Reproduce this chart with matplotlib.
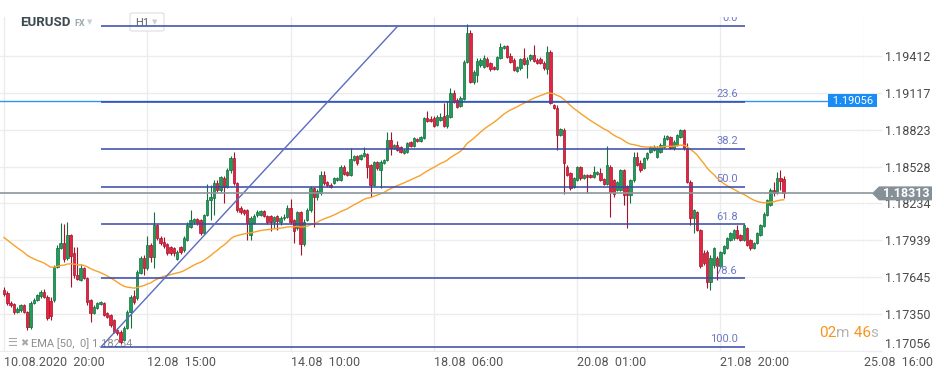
import numpy as np
import matplotlib
matplotlib.use('Agg')
import matplotlib.pyplot as plt
import matplotlib.transforms as mtransforms
from matplotlib.patches import Polygon, FancyBboxPatch

plt.rcParams['font.family'] = ['Roboto', 'DejaVu Sans']

# EURUSD H1 candles, first bar = 10.08.2020 20:00
opens = [
    1.17540, 1.17516, 1.17436, 1.17428, 1.17364, 1.17380, 1.17420, 1.17364, 1.17244, 1.17436,
    1.17460, 1.17492, 1.17524, 1.17484, 1.17452, 1.17460, 1.17724, 1.17876, 1.17916, 1.17796,
    1.17980, 1.17836, 1.17660, 1.17620, 1.17716, 1.17636, 1.17460, 1.17356, 1.17396, 1.17428,
    1.17436, 1.17356, 1.17340, 1.17300, 1.17220, 1.17204, 1.17140, 1.17236, 1.17364, 1.17492,
    1.17476, 1.17676, 1.17796, 1.17716, 1.17900, 1.17804, 1.18060, 1.17956, 1.17924, 1.17908,
    1.17884, 1.17876, 1.17788, 1.17884, 1.17860, 1.17940, 1.18044, 1.18084, 1.18108, 1.18100,
    1.17996, 1.18140, 1.18260, 1.18276, 1.18396, 1.18340, 1.18436, 1.18364, 1.18500, 1.18596,
    1.18396, 1.18196, 1.18180, 1.18180, 1.17980, 1.18076, 1.18140, 1.18140, 1.18172, 1.18132,
    1.18132, 1.18084, 1.18132, 1.18084, 1.18116, 1.18124, 1.18196, 1.18100, 1.18036, 1.18164,
    1.17908, 1.18100, 1.18180, 1.18356, 1.18284, 1.18316, 1.18460, 1.18404, 1.18380, 1.18396,
    1.18420, 1.18420, 1.18524, 1.18484, 1.18460, 1.18580, 1.18612, 1.18588, 1.18612, 1.18628,
    1.18540, 1.18380, 1.18564, 1.18500, 1.18556, 1.18580, 1.18740, 1.18676, 1.18700, 1.18684,
    1.18636, 1.18644, 1.18724, 1.18692, 1.18748, 1.18732, 1.18756, 1.18916, 1.18908, 1.18916,
    1.18860, 1.18900, 1.18932, 1.18852, 1.18924, 1.19116, 1.19060, 1.19012, 1.19068, 1.19364,
    1.19596, 1.19204, 1.19260, 1.19340, 1.19324, 1.19388, 1.19356, 1.19324, 1.19308, 1.19396,
    1.19476, 1.19492, 1.19412, 1.19380, 1.19292, 1.19316, 1.19396, 1.19348, 1.19388, 1.19420,
    1.19380, 1.19388, 1.19356, 1.19308, 1.19444, 1.19020, 1.18996, 1.18780, 1.18820, 1.18524,
    1.18476, 1.18364, 1.18420, 1.18524, 1.18436, 1.18460, 1.18460, 1.18444, 1.18468, 1.18476,
    1.18428, 1.18388, 1.18524, 1.18420, 1.18340, 1.18340, 1.18500, 1.18372, 1.18300, 1.18420,
    1.18604, 1.18556, 1.18516, 1.18596, 1.18644, 1.18660, 1.18604, 1.18644, 1.18684, 1.18748,
    1.18764, 1.18676, 1.18700, 1.18764, 1.18820, 1.18676, 1.18404, 1.18116, 1.18164, 1.18020,
    1.17836, 1.17844, 1.17604, 1.17740, 1.17796, 1.17732, 1.17836, 1.17876, 1.17940, 1.17956,
    1.18020, 1.17980, 1.17940, 1.18036, 1.17940, 1.17876, 1.17916, 1.17980, 1.18052, 1.18140,
    1.18220, 1.18340, 1.18316, 1.18436, 1.18428,
]
highs = [
    1.17564, 1.17532, 1.17452, 1.17436, 1.17404, 1.17428, 1.17428, 1.17372, 1.17452, 1.17476,
    1.17508, 1.17540, 1.17548, 1.17500, 1.17484, 1.17740, 1.17900, 1.18076, 1.18068, 1.18084,
    1.17988, 1.17884, 1.17884, 1.17748, 1.17724, 1.17644, 1.17468, 1.17420, 1.17444, 1.17452,
    1.17444, 1.17364, 1.17348, 1.17308, 1.17236, 1.17220, 1.17252, 1.17380, 1.17500, 1.17540,
    1.17700, 1.17812, 1.17820, 1.17972, 1.17916, 1.18164, 1.18068, 1.17972, 1.17964, 1.17916,
    1.17892, 1.17884, 1.17860, 1.17892, 1.17972, 1.18084, 1.18180, 1.18116, 1.18116, 1.18108,
    1.18148, 1.18388, 1.18380, 1.18420, 1.18420, 1.18452, 1.18452, 1.18516, 1.18612, 1.18644,
    1.18404, 1.18212, 1.18188, 1.18188, 1.18132, 1.18148, 1.18180, 1.18180, 1.18180, 1.18140,
    1.18140, 1.18132, 1.18140, 1.18132, 1.18148, 1.18220, 1.18268, 1.18108, 1.18172, 1.18172,
    1.18108, 1.18196, 1.18372, 1.18364, 1.18348, 1.18492, 1.18492, 1.18412, 1.18396, 1.18444,
    1.18444, 1.18540, 1.18540, 1.18492, 1.18676, 1.18620, 1.18620, 1.18628, 1.18684, 1.18636,
    1.18548, 1.18572, 1.18572, 1.18580, 1.18588, 1.18804, 1.18804, 1.18708, 1.18732, 1.18692,
    1.18668, 1.18724, 1.18732, 1.18764, 1.18756, 1.18772, 1.18924, 1.18972, 1.18932, 1.18932,
    1.18940, 1.18956, 1.19036, 1.19052, 1.19156, 1.19140, 1.19076, 1.19092, 1.19380, 1.19668,
    1.19620, 1.19300, 1.19396, 1.19396, 1.19420, 1.19404, 1.19364, 1.19332, 1.19412, 1.19516,
    1.19500, 1.19500, 1.19436, 1.19396, 1.19332, 1.19396, 1.19476, 1.19404, 1.19428, 1.19500,
    1.19396, 1.19404, 1.19372, 1.19492, 1.19460, 1.19028, 1.19020, 1.18836, 1.18836, 1.18540,
    1.18484, 1.18444, 1.18532, 1.18532, 1.18468, 1.18468, 1.18468, 1.18532, 1.18492, 1.18516,
    1.18436, 1.18692, 1.18540, 1.18428, 1.18412, 1.18508, 1.18508, 1.18380, 1.18428, 1.18644,
    1.18644, 1.18580, 1.18604, 1.18644, 1.18692, 1.18700, 1.18692, 1.18716, 1.18780, 1.18780,
    1.18772, 1.18740, 1.18788, 1.18828, 1.18828, 1.18716, 1.18420, 1.18188, 1.18172, 1.18028,
    1.17860, 1.17860, 1.17820, 1.17884, 1.17812, 1.17852, 1.17900, 1.17964, 1.18004, 1.18028,
    1.18060, 1.17988, 1.18068, 1.18044, 1.17948, 1.17924, 1.18004, 1.18068, 1.18164, 1.18268,
    1.18356, 1.18404, 1.18484, 1.18500, 1.18452,
]
lows = [
    1.17492, 1.17420, 1.17404, 1.17348, 1.17356, 1.17364, 1.17356, 1.17220, 1.17228, 1.17428,
    1.17452, 1.17476, 1.17476, 1.17300, 1.17300, 1.17444, 1.17716, 1.17868, 1.17764, 1.17780,
    1.17564, 1.17636, 1.17620, 1.17612, 1.17628, 1.17420, 1.17284, 1.17348, 1.17388, 1.17420,
    1.17332, 1.17316, 1.17244, 1.17196, 1.17180, 1.17108, 1.17132, 1.17228, 1.17236, 1.17428,
    1.17460, 1.17668, 1.17660, 1.17700, 1.17764, 1.17716, 1.17940, 1.17900, 1.17876, 1.17820,
    1.17820, 1.17812, 1.17780, 1.17828, 1.17844, 1.17932, 1.18036, 1.18068, 1.18060, 1.17980,
    1.17988, 1.18132, 1.18100, 1.18140, 1.18324, 1.18324, 1.18236, 1.18356, 1.18476, 1.18380,
    1.18164, 1.18148, 1.18140, 1.17940, 1.17940, 1.18068, 1.18124, 1.18132, 1.18124, 1.18068,
    1.18012, 1.18036, 1.18020, 1.18060, 1.18100, 1.18116, 1.18068, 1.17916, 1.18020, 1.17820,
    1.17892, 1.18092, 1.18164, 1.18044, 1.18260, 1.18300, 1.18380, 1.18364, 1.18356, 1.18388,
    1.18412, 1.18412, 1.18460, 1.18452, 1.18452, 1.18572, 1.18540, 1.18580, 1.18604, 1.18436,
    1.18284, 1.18372, 1.18500, 1.18356, 1.18548, 1.18572, 1.18620, 1.18668, 1.18652, 1.18636,
    1.18628, 1.18636, 1.18684, 1.18684, 1.18724, 1.18724, 1.18748, 1.18884, 1.18884, 1.18844,
    1.18852, 1.18892, 1.18844, 1.18836, 1.18916, 1.19036, 1.18996, 1.19004, 1.19060, 1.19356,
    1.19196, 1.19188, 1.19204, 1.19324, 1.19316, 1.19324, 1.19292, 1.19300, 1.19300, 1.19388,
    1.19468, 1.19396, 1.19356, 1.19292, 1.19284, 1.19300, 1.19340, 1.19236, 1.19372, 1.19364,
    1.19348, 1.19348, 1.19300, 1.19268, 1.19028, 1.18988, 1.18660, 1.18772, 1.18308, 1.18452,
    1.18340, 1.18356, 1.18412, 1.18420, 1.18428, 1.18316, 1.18436, 1.18436, 1.18460, 1.18412,
    1.18380, 1.18380, 1.18124, 1.18284, 1.18332, 1.18332, 1.18220, 1.18036, 1.18236, 1.18404,
    1.18532, 1.18484, 1.18508, 1.18580, 1.18636, 1.18652, 1.18596, 1.18636, 1.18676, 1.18740,
    1.18668, 1.18660, 1.18692, 1.18756, 1.18660, 1.18396, 1.18060, 1.17996, 1.18012, 1.17716,
    1.17740, 1.17556, 1.17540, 1.17716, 1.17620, 1.17716, 1.17828, 1.17868, 1.17932, 1.17940,
    1.17948, 1.17932, 1.17932, 1.17892, 1.17860, 1.17868, 1.17908, 1.17972, 1.18044, 1.18132,
    1.18212, 1.18292, 1.18308, 1.18340, 1.18276,
]
closes = [
    1.17508, 1.17436, 1.17420, 1.17364, 1.17388, 1.17420, 1.17364, 1.17244, 1.17436, 1.17460,
    1.17500, 1.17524, 1.17484, 1.17316, 1.17332, 1.17724, 1.17876, 1.17916, 1.17788, 1.17980,
    1.17812, 1.17660, 1.17628, 1.17716, 1.17636, 1.17444, 1.17356, 1.17404, 1.17436, 1.17444,
    1.17340, 1.17324, 1.17260, 1.17204, 1.17196, 1.17124, 1.17236, 1.17364, 1.17484, 1.17444,
    1.17684, 1.17796, 1.17716, 1.17900, 1.17804, 1.18060, 1.17956, 1.17916, 1.17892, 1.17836,
    1.17836, 1.17836, 1.17844, 1.17844, 1.17956, 1.18060, 1.18100, 1.18108, 1.18076, 1.17996,
    1.18140, 1.18260, 1.18284, 1.18396, 1.18340, 1.18444, 1.18364, 1.18500, 1.18596, 1.18396,
    1.18180, 1.18164, 1.18156, 1.18076, 1.18116, 1.18132, 1.18164, 1.18172, 1.18132, 1.18084,
    1.18084, 1.18124, 1.18092, 1.18116, 1.18124, 1.18196, 1.18084, 1.18012, 1.18164, 1.17908,
    1.18084, 1.18180, 1.18356, 1.18284, 1.18332, 1.18460, 1.18396, 1.18380, 1.18364, 1.18436,
    1.18436, 1.18524, 1.18468, 1.18460, 1.18588, 1.18612, 1.18556, 1.18620, 1.18636, 1.18524,
    1.18380, 1.18564, 1.18516, 1.18564, 1.18580, 1.18740, 1.18676, 1.18700, 1.18660, 1.18644,
    1.18660, 1.18716, 1.18692, 1.18756, 1.18732, 1.18764, 1.18916, 1.18892, 1.18892, 1.18852,
    1.18924, 1.18924, 1.18852, 1.18940, 1.19116, 1.19044, 1.19004, 1.19076, 1.19364, 1.19596,
    1.19204, 1.19284, 1.19372, 1.19380, 1.19396, 1.19332, 1.19308, 1.19308, 1.19404, 1.19484,
    1.19492, 1.19404, 1.19364, 1.19300, 1.19324, 1.19388, 1.19348, 1.19380, 1.19420, 1.19372,
    1.19356, 1.19356, 1.19316, 1.19444, 1.19036, 1.18996, 1.18780, 1.18828, 1.18556, 1.18460,
    1.18356, 1.18436, 1.18524, 1.18436, 1.18460, 1.18444, 1.18444, 1.18484, 1.18484, 1.18420,
    1.18388, 1.18540, 1.18324, 1.18308, 1.18404, 1.18500, 1.18300, 1.18300, 1.18420, 1.18604,
    1.18540, 1.18500, 1.18596, 1.18636, 1.18684, 1.18684, 1.18676, 1.18700, 1.18756, 1.18772,
    1.18676, 1.18724, 1.18780, 1.18820, 1.18676, 1.18404, 1.18116, 1.18180, 1.18020, 1.17732,
    1.17756, 1.17604, 1.17796, 1.17876, 1.17732, 1.17844, 1.17892, 1.17956, 1.17996, 1.18020,
    1.17956, 1.17940, 1.18060, 1.17900, 1.17876, 1.17916, 1.17996, 1.18060, 1.18148, 1.18260,
    1.18340, 1.18316, 1.18436, 1.18412, 1.18313,
]

time_labels = ['10.08.2020  20:00', '12.08  15:00', '14.08  10:00', '18.08  06:00',
               '20.08  01:00', '21.08  20:00', '25.08  16:00']
time_label_bars = [0, 43, 86, 129, 172, 215, 258]
price_ticks = [1.19412, 1.19117, 1.18823, 1.18528, 1.18234, 1.17939, 1.17645, 1.17350, 1.17056]

ema_period = 50
ema_start = 1.1796          # EMA value at the first visible bar
fib_high = 1.19652
fib_low = 1.17084
fib_levels = [0.0, 23.6, 38.2, 50.0, 61.8, 78.6, 100.0]
fib_start_bar, fib_end_bar, trend_top_bar = 29.1, 222.3, 118.2
fib_label_bar = 220.2
alert_price = 1.19056
last_price = closes[-1]

# colours
up_fill, up_edge = '#1f9e59', '#146e3d'
dn_fill, dn_edge = '#e8223f', '#a3142a'
fib_color = '#3647a8'
grid_color = '#ececec'
orange = '#f7941d'

o = np.array(opens)
h = np.array(highs)
l = np.array(lows)
c = np.array(closes)
x = np.arange(len(c))

alpha = 2 / (ema_period + 1)
ema = [ema_start]
for v in closes[1:]:
    ema.append(ema[-1] + alpha * (v - ema[-1]))

fig = plt.figure(figsize=(9.45, 3.76), dpi=100)
ax = fig.add_axes([0, 24 / 376, 864 / 945, 335 / 376])
ax.set_xlim(-1.2, 258.1)
ax.set_ylim(1.17044, 1.19724)
ax.set_axisbelow(True)
for s in ax.spines.values():
    s.set_visible(False)
ax.grid(True, color=grid_color, lw=1)

# candles
up = c >= o
edge = np.where(up, up_edge, dn_edge)
ax.vlines(x, l, h, colors=edge, lw=0.8, zorder=3)
ax.bar(x, np.abs(c - o), bottom=np.minimum(o, c), width=0.72,
       color=np.where(up, up_fill, dn_fill), edgecolor=edge, linewidth=0.5, zorder=4)

# EMA 50
ax.plot(x, ema, color='#f8a12a', lw=1, zorder=5)

# fibonacci retracement + trend line
fib_prices = [fib_high - lv / 100 * (fib_high - fib_low) for lv in fib_levels]
ax.hlines(fib_prices, fib_start_bar, fib_end_bar, color=fib_color, lw=1.1, zorder=6)
ax.plot([fib_start_bar, trend_top_bar], [fib_low, fib_high], color='#5c6bc0', lw=1, zorder=6)
lift = ax.transData + mtransforms.ScaledTranslation(0, 2 / 72, fig.dpi_scale_trans)
for lv, p in zip(fib_levels, fib_prices):
    ax.text(fib_label_bar, p, f'{lv:.1f}', transform=lift, ha='right', va='bottom',
            fontsize=8, color='#6b78c4', clip_on=True, zorder=6)

# alert line with its label
ax.axhline(alert_price, color='#2b95f0', lw=1, zorder=2)
ax.annotate(' ' + f'{alert_price:.5f}' + ' ', xy=(0.9867, alert_price),
            xycoords=('axes fraction', 'data'), ha='center', va='center',
            fontsize=8, color='white', annotation_clip=False, zorder=12,
            bbox=dict(boxstyle='square,pad=0.12', fc='#1a8cf5', ec='none'))

# current price line and marker
ax.axhline(last_price, xmax=872 / 864, color='#8b969c', lw=1.2, zorder=7, clip_on=False)
blend = mtransforms.blended_transform_factory(fig.transFigure, ax.transData)
hh = 0.00056
verts = [(872 / 945, last_price), (879 / 945, last_price + hh), (932 / 945, last_price + hh),
         (932 / 945, last_price - hh), (879 / 945, last_price - hh)]
fig.add_artist(Polygon(verts, closed=True, transform=blend, fc='#859197', ec='none', zorder=20))
fig.text(906 / 945, last_price, f'{last_price:.5f}', transform=blend, ha='center', va='center',
         fontsize=9, fontweight='bold', color='white', zorder=21)

# axes ticks
ax.yaxis.tick_right()
ax.set_yticks(price_ticks)
ax.set_yticklabels([f'{p:.5f}' for p in price_ticks])
ax.tick_params(axis='y', length=13, width=1, color=grid_color, pad=2,
               labelsize=9, labelcolor='#4a4a4a')
ax.get_yticklabels()[-1].set_va('bottom')
ax.set_xticks(time_label_bars)
ax.set_xticklabels(time_labels, ha='left')
ax.tick_params(axis='x', length=0, pad=3, labelsize=9, labelcolor='#555555')

# header
fig.text(20 / 945, 1 - 22.5 / 376, 'EURUSD', fontsize=9.5, fontweight='bold',
         color='#3d4a52', va='center')
fig.text(74 / 945, 1 - 23 / 376, 'FX', fontsize=6.5, fontweight='bold', color='#9aa7ad', va='center')
fig.text(87 / 945, 1 - 22 / 376, '▼', fontsize=5, color='#c8cfd3', va='center', family='DejaVu Sans')
ax.add_artist(FancyBboxPatch((130 / 945, 1 - 31 / 376), 34 / 945, 18 / 376,
                             boxstyle='round,pad=0,rounding_size=0.003', transform=fig.transFigure,
                             fc='white', ec='#dedede', lw=0.8, zorder=1, clip_on=False))
fig.text(135 / 945, 1 - 23 / 376, 'H1', fontsize=8, color='#56646c', va='center')
fig.text(152 / 945, 1 - 22 / 376, '▼', fontsize=5, color='#c8cfd3', va='center', family='DejaVu Sans')

# indicator legend (bottom left, under the candles)
ax.text(7 / 945, 1 - 343 / 376, '☰', transform=fig.transFigure, fontsize=8, color='#a8a8a8',
        va='center', family='DejaVu Sans', zorder=2)
ax.text(20 / 945, 1 - 343 / 376, '✖', transform=fig.transFigure, fontsize=7, color='#a8a8a8',
        va='center', family='DejaVu Sans', zorder=2)
ax.text(31 / 945, 1 - 344 / 376, 'EMA [50,  0] 1.18254', transform=fig.transFigure, fontsize=8,
        color='#8d8d8d', va='center', zorder=2)

# bar countdown
t1 = fig.text(819 / 945, 1 - 340 / 376, '02', fontsize=11, color=orange, va='bottom')
t2 = ax.annotate('m', xy=(1, 0), xycoords=t1, va='bottom', fontsize=11, color='#b5b5b5',
                 annotation_clip=False)
t3 = ax.annotate(' 46', xy=(1, 0), xycoords=t2, va='bottom', fontsize=11, color=orange,
                 annotation_clip=False)
ax.annotate('s', xy=(1, 0), xycoords=t3, va='bottom', fontsize=11, color='#b5b5b5',
            annotation_clip=False)

fig.savefig('out.png', dpi=100)
